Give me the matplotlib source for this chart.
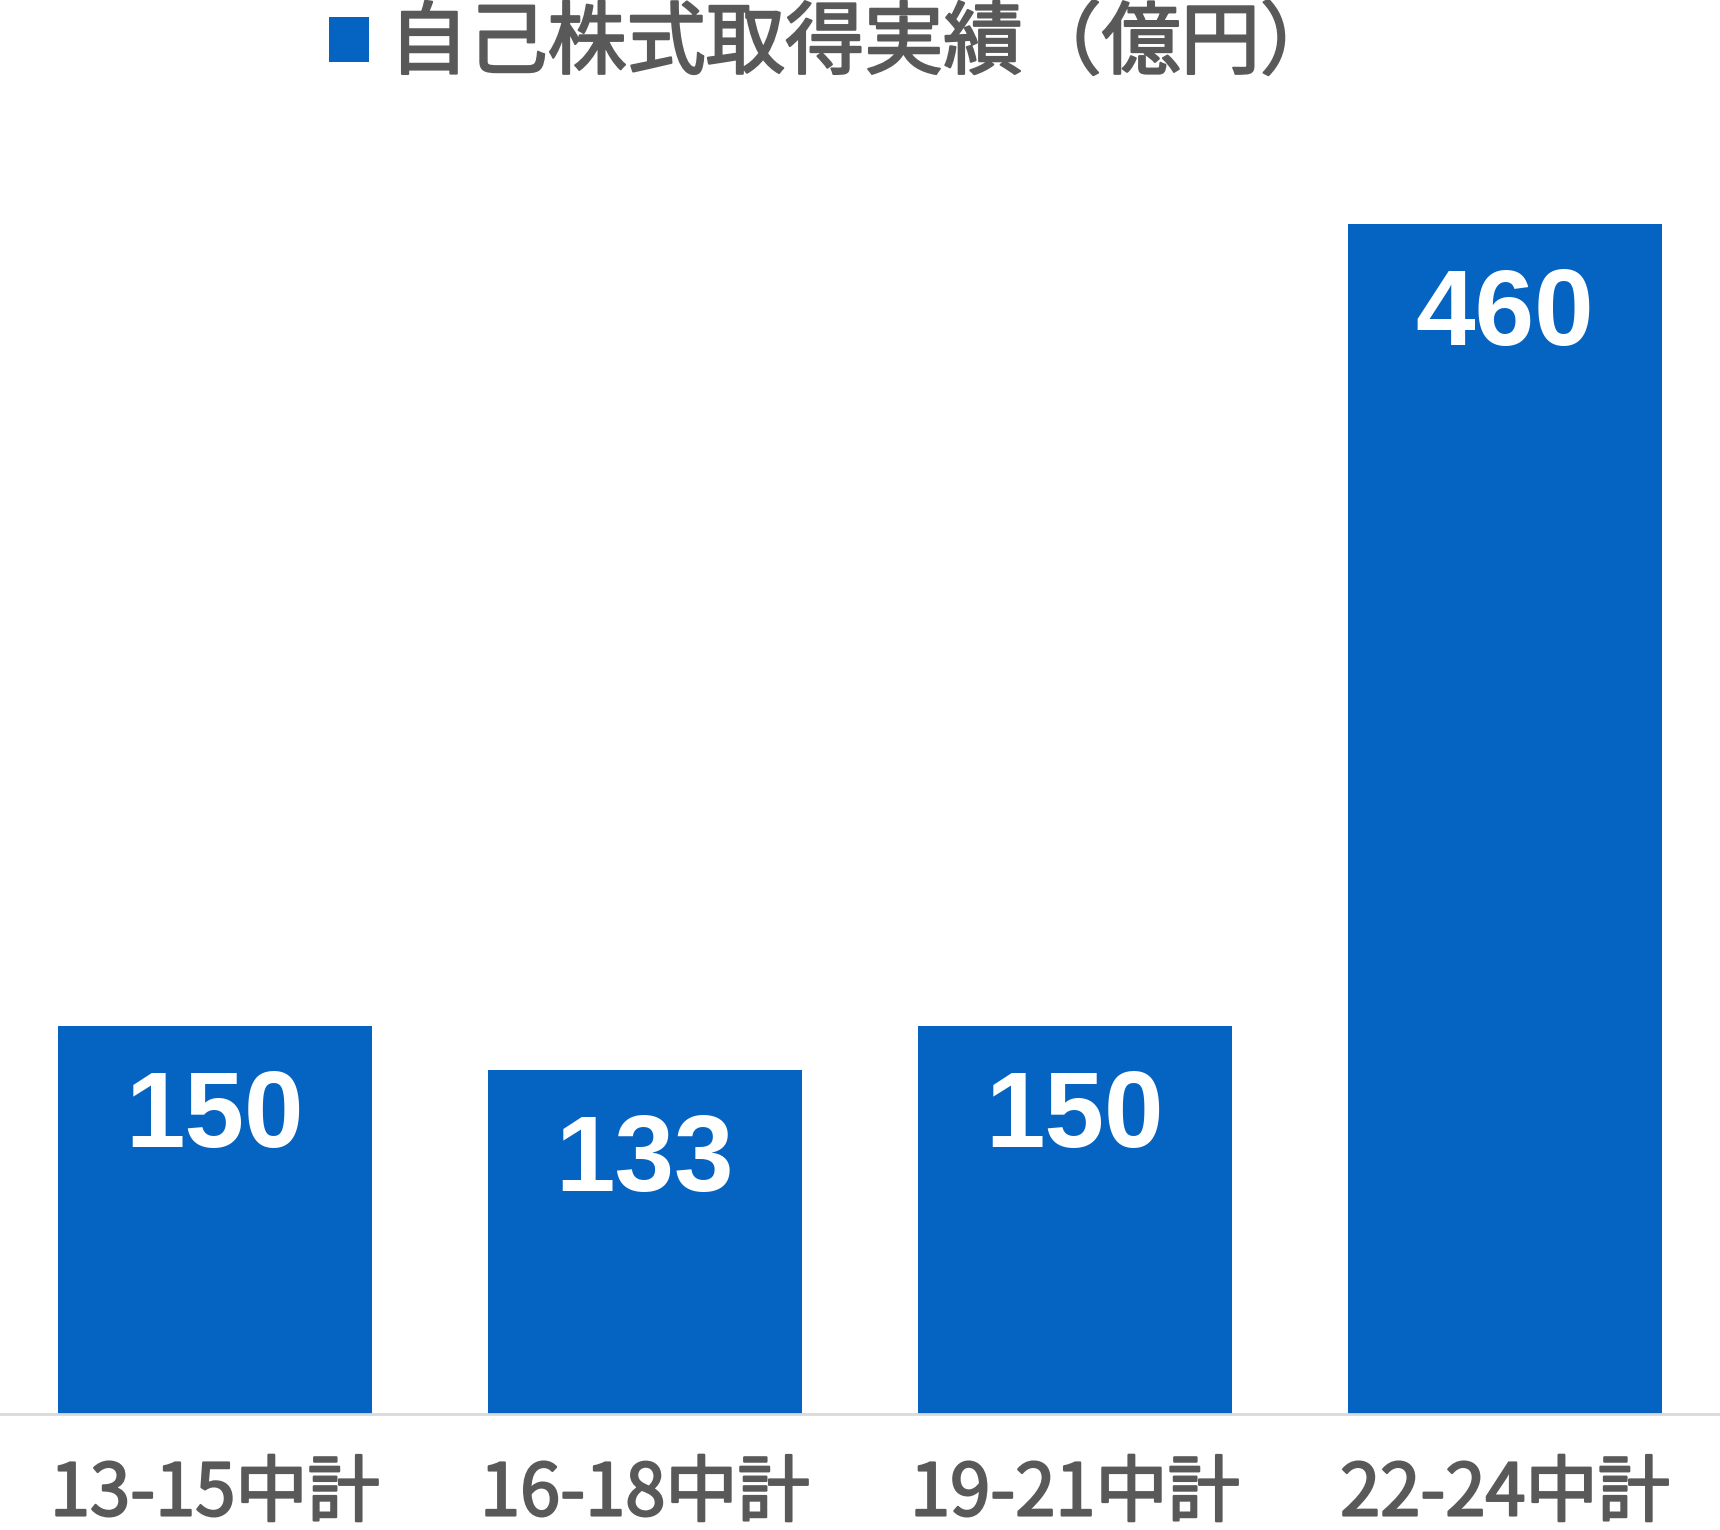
import matplotlib
matplotlib.use("Agg")
import matplotlib.pyplot as plt
import matplotlib.patheffects as pe
from matplotlib.patches import Patch

# data
periods = ["13-15中計", "16-18中計", "19-21中計", "22-24中計"]
buyback = [150, 133, 150, 460]
series_name = "自己株式取得実績（億円）"

blue = "#0563C1"
grey_text = "#595959"
cjk = ["Noto Sans CJK JP", "DejaVu Sans"]
# regular weight thickened a little, to sit between regular and bold
thicken = [pe.withStroke(linewidth=1.6, foreground=grey_text)]

fig = plt.figure(figsize=(17.2, 15.3), dpi=100)
ax = fig.add_axes([0, (1530 - 1414) / 1530, 1, (1414 - 224) / 1530])

x = range(len(periods))
ax.bar(x, buyback, width=0.73, color=blue)
ax.set_xlim(-0.5, 3.5)
ax.set_ylim(0, 460)

for i, v in zip(x, buyback):
    ax.annotate(str(v), (i, v), xytext=(0, -31), textcoords="offset points",
                ha="center", va="top", color="white", fontsize=77,
                fontweight="bold", family="Liberation Sans")

for s in ["top", "left", "right"]:
    ax.spines[s].set_visible(False)
ax.spines["bottom"].set_color("#D9D9D9")
ax.spines["bottom"].set_linewidth(2)
ax.set_yticks([])
ax.set_xticks(list(x))
ax.set_xticklabels(periods, family=cjk, fontsize=52, color=grey_text)
for lab in ax.get_xticklabels():
    lab.set_path_effects(thicken)
ax.tick_params(axis="x", length=0, pad=32)

handle = Patch(facecolor=blue, edgecolor="none")
leg = fig.legend([handle], [series_name], loc="center left",
                 bbox_to_anchor=(329 / 1720, 1 - 45 / 1530), bbox_transform=fig.transFigure,
                 frameon=False, borderpad=0, borderaxespad=0,
                 handlelength=0.51, handleheight=0.51, handletextpad=0.25,
                 prop={"family": cjk, "size": 57})
for t in leg.get_texts():
    t.set_color(grey_text)
    t.set_path_effects(thicken)

fig.savefig("out.png", dpi=100)
